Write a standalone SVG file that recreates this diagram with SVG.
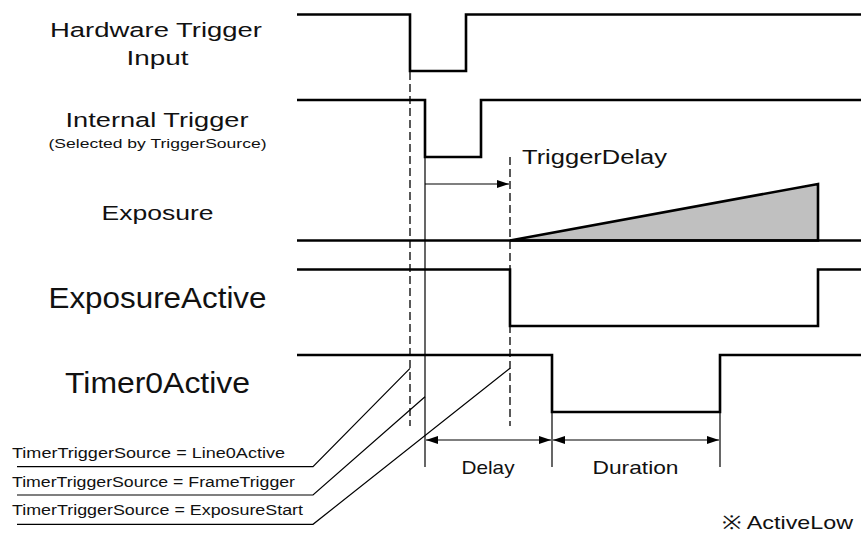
<svg xmlns="http://www.w3.org/2000/svg" width="861" height="533" viewBox="0 0 861 533">
<style>
text{font-family:"Liberation Sans",Arial,sans-serif;fill:#111}
.sig{fill:none;stroke:#000;stroke-width:2.6;stroke-linejoin:miter}
.thin{fill:none;stroke:#000;stroke-width:1.2}
.dash{fill:none;stroke:#000;stroke-width:1.3;stroke-dasharray:8,4}
.lbl{font-size:20.5px;text-anchor:middle}
.big{font-size:29px;text-anchor:middle}
.sm{font-size:15.5px}
</style>
<defs>
<marker id="ah" viewBox="0 0 12 8" refX="12" refY="4" markerWidth="12" markerHeight="8" markerUnits="userSpaceOnUse" orient="auto-start-reverse">
<path d="M0,0 L12,4 L0,8 Z" fill="#000"/>
</marker>
</defs>
<rect width="861" height="533" fill="#fff"/>

<g id="hardware-trigger">
<text class="lbl" x="156" y="36.5" textLength="212" lengthAdjust="spacingAndGlyphs">Hardware Trigger</text>
<text class="lbl" x="157.5" y="65" textLength="62" lengthAdjust="spacingAndGlyphs">Input</text>
<polyline class="sig" points="297,14.5 410,14.5 410,71 466,71 466,14.5 861,14.5"/>
</g>

<g id="internal-trigger">
<text class="lbl" x="157" y="126.5" textLength="183" lengthAdjust="spacingAndGlyphs">Internal Trigger</text>
<text x="157.5" y="148" font-size="13.5" text-anchor="middle" textLength="218" lengthAdjust="spacingAndGlyphs">(Selected by TriggerSource)</text>
<polyline class="sig" points="297,100 425,100 425,157 481,157 481,100 861,100"/>
</g>

<g id="exposure">
<text class="lbl" x="157.5" y="220" textLength="112" lengthAdjust="spacingAndGlyphs">Exposure</text>
<polygon points="510,240.5 818,184 818,240.5" fill="#c0c0c0" stroke="#000" stroke-width="2.6" stroke-linejoin="miter"/>
<line class="sig" x1="297" y1="240.5" x2="861" y2="240.5"/>
</g>

<g id="exposure-active">
<text class="big" x="157.5" y="308" textLength="218" lengthAdjust="spacingAndGlyphs">ExposureActive</text>
<polyline class="sig" points="297,269.5 510,269.5 510,326 818,326 818,269.5 861,269.5"/>
</g>

<g id="timer0-active">
<text class="big" x="157.5" y="392.5" textLength="185" lengthAdjust="spacingAndGlyphs">Timer0Active</text>
<polyline class="sig" points="297,355 552,355 552,412 720,412 720,355 861,355"/>
</g>

<g id="trigger-delay-label">
<text x="522" y="164" font-size="20" textLength="145" lengthAdjust="spacingAndGlyphs">TriggerDelay</text>
</g>

<g id="delay-label">
<text x="488" y="474" font-size="19" text-anchor="middle" textLength="53" lengthAdjust="spacingAndGlyphs">Delay</text>
</g>

<g id="duration-label">
<text x="635.5" y="474" font-size="19" text-anchor="middle" textLength="86" lengthAdjust="spacingAndGlyphs">Duration</text>
</g>

<g id="source-line0">
<text class="sm" x="12" y="458" textLength="273" lengthAdjust="spacingAndGlyphs">TimerTriggerSource = Line0Active</text>
</g>
<g id="source-frame">
<text class="sm" x="12" y="486.5" textLength="283" lengthAdjust="spacingAndGlyphs">TimerTriggerSource = FrameTrigger</text>
</g>
<g id="source-exposure">
<text class="sm" x="12" y="515" textLength="291" lengthAdjust="spacingAndGlyphs">TimerTriggerSource = ExposureStart</text>
</g>

<g id="note">
<text x="722" y="529" font-size="19" textLength="131" lengthAdjust="spacingAndGlyphs">※ ActiveLow</text>
</g>

<g id="connectors">
<line class="dash" x1="410" y1="72" x2="410" y2="426"/>
<line class="dash" x1="510" y1="157" x2="510" y2="426"/>
<line class="thin" x1="425" y1="157" x2="425" y2="467"/>
<line class="thin" x1="552" y1="412" x2="552" y2="467"/>
<line class="thin" x1="720" y1="412" x2="720" y2="467"/>
<line class="thin" x1="425" y1="184" x2="509" y2="184" marker-end="url(#ah)"/>
<line class="thin" x1="426" y1="440" x2="551" y2="440" marker-start="url(#ah)" marker-end="url(#ah)"/>
<line class="thin" x1="553" y1="440" x2="719" y2="440" marker-start="url(#ah)" marker-end="url(#ah)"/>
<polyline class="thin" points="17,466.7 313,466.7 410,368.3"/>
<polyline class="thin" points="17,495 313,495 425,396.7"/>
<polyline class="thin" points="17,524.3 313,524.3 510,368.3"/>
</g>
</svg>
